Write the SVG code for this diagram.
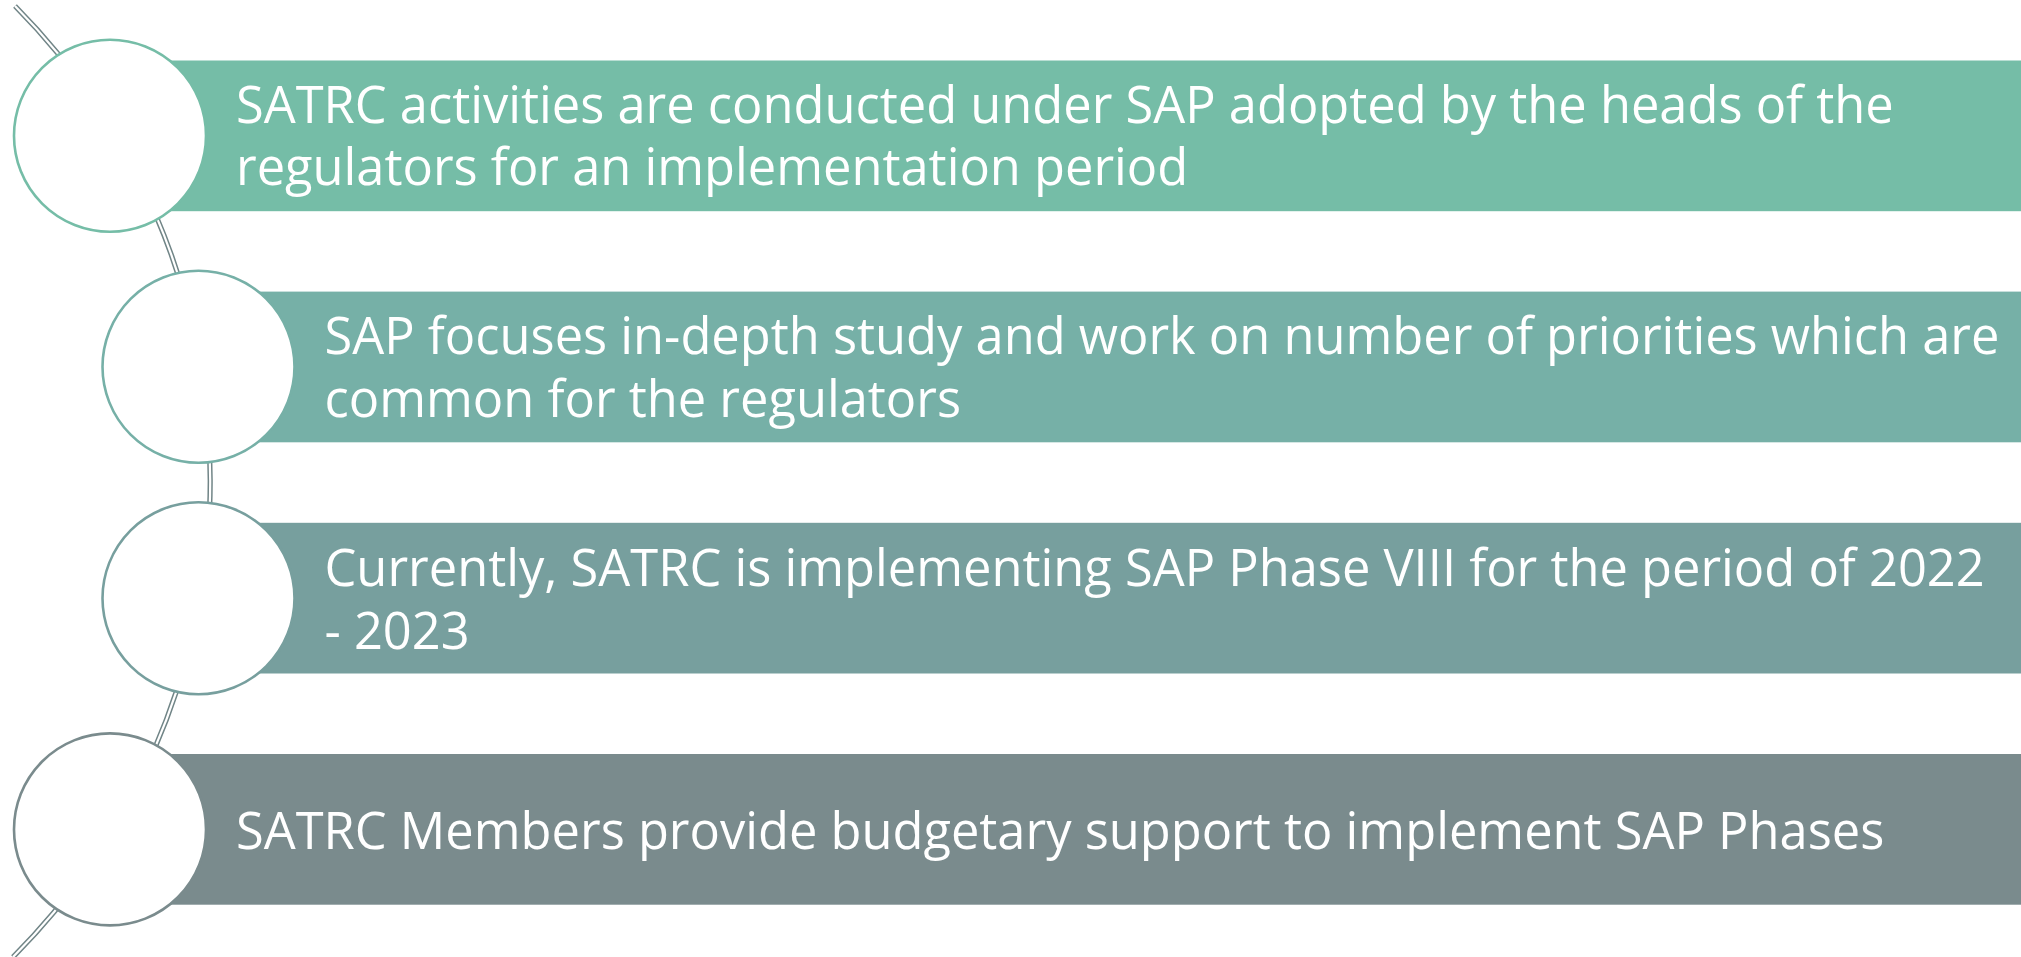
<svg xmlns="http://www.w3.org/2000/svg" width="2021" height="957" viewBox="0 0 2021 957">
<style>
.t{font-family:"Open Sans","Noto Sans","Liberation Sans",sans-serif;font-size:50.6px;fill:#ffffff}
.c{fill:#ffffff;stroke-width:2.6}
</style>
<rect width="2021" height="957" fill="#ffffff"/>
<g id="connectors">
<path d="M 15 6 A 674.3 674.3 0 0 1 13 957" fill="none" stroke="#718587" stroke-width="5.2"/>
<path d="M 15 6 A 674.3 674.3 0 0 1 13 957" fill="none" stroke="#ffffff" stroke-width="2.2"/>
</g>
<g id="node1">
<rect x="110" y="60.5" width="1911" height="150.7" fill="#75BDA7"/>
<circle class="c" cx="110" cy="135.7" r="96" stroke="#75BDA7"/>
<text class="t" x="236" y="122.7">SATRC activities are conducted under SAP adopted by the heads of the</text>
<text class="t" x="236" y="185">regulators for an implementation period</text>
</g>
<g id="node2">
<rect x="198.5" y="291.6" width="1822.5" height="150.7" fill="#76B0A7"/>
<circle class="c" cx="198.5" cy="366.8" r="96" stroke="#76B0A7"/>
<text class="t" x="324.5" y="354.3">SAP focuses in-depth study and work on number of priorities which are</text>
<text class="t" x="324.5" y="417.3">common for the regulators</text>
</g>
<g id="node3">
<rect x="198.5" y="522.8" width="1822.5" height="150.7" fill="#779F9E"/>
<circle class="c" cx="198.5" cy="598.2" r="96" stroke="#779F9E"/>
<text class="t" x="324.5" y="585.5">Currently, SATRC is implementing SAP Phase VIII for the period of 2022</text>
<text class="t" x="324.5" y="648.5">- 2023</text>
</g>
<g id="node4">
<rect x="110" y="754" width="1911" height="150.7" fill="#7A8B8D"/>
<circle class="c" cx="110" cy="829.4" r="96" stroke="#7A8B8D"/>
<text class="t" x="236" y="849">SATRC Members provide budgetary support to implement SAP Phases</text>
</g>
</svg>
